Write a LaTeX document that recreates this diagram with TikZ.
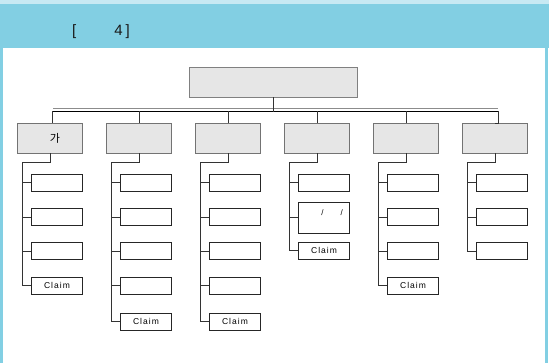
\documentclass[tikz,border=0pt]{standalone}
\usepackage{fontspec}
\setmainfont{Liberation Sans}
\newfontfamily\krfont{Noto Sans CJK KR}
\usetikzlibrary{positioning, calc}
\definecolor{band}{HTML}{82CFE3}
\definecolor{boxfill}{HTML}{E6E6E6}
\tikzset{
x=1pt, y=-1pt, % one unit is one pixel of the page
line width=1.2pt,
root/.style={draw=black!50, fill=boxfill, minimum width=168pt, minimum height=30pt, inner sep=0pt}, % the box on top
group/.style={draw=black!55, fill=boxfill, minimum width=65pt, minimum height=30pt, inner sep=0pt, font=\krfont\fontsize{11}{12}\selectfont}, % the six boxes under the bus
leaf/.style={draw=black!85, fill=white, minimum width=51pt, minimum height=17pt, inner sep=0pt, font=\fontsize{8.5}{9}\selectfont\addfontfeature{LetterSpace=12}}, % the small boxes
link/.style={draw=black!80}, % connectors
}

\begin{document}
\begin{tikzpicture}
        \useasboundingbox (0,0) rectangle (549,363);
        % frame and title band
        \fill[band!45] (0,0) rectangle (549,4);
        \fill[band] (0,4) rectangle (549,48);
        \fill[band] (0,48) rectangle (3,363);
        \fill[band] (545,48) rectangle (548,363);
        \node[anchor=west, inner sep=0pt, font=\fontsize{15}{17}\selectfont, text=black!90] (title) at (72,32) {[\hspace{38pt}4\hspace{3pt}]};

        \node[root] (top) at (273,82) {};

        % the bus
        \coordinate (busL) at (52,111);
        \coordinate (busR) at (498,111);
        \draw[black!45] ($(busL)+(1,-3)$) -- ($(busR)+(0,-3)$);
        \draw[black] (busL) -- (busR);
        \draw[link] (top.south) -- ($(top.south |- busL)+(0,1)$);

        \node[group] (g1) at (50,138) {\hspace*{10pt}가};
        \node[group] (g2) at (139,138) {};
        \node[group] (g3) at (228,138) {};
        \node[group] (g4) at (317,138) {};
        \node[group] (g5) at (406,138) {};
        \node[group] (g6) at (495,138) {};

        \draw[link] (g1.north -| busL) -- (busL);
        \draw[link] (g2.north) -- (g2.north |- busL);
        \draw[link] (g3.north) -- (g3.north |- busL);
        \draw[link] (g4.north) -- (g4.north |- busL);
        \draw[link] (g5.north) -- (g5.north |- busL);
        \draw[link] (g6.north) -- (g6.north -| busR) -- (busR);

        % first column
        \node[leaf] (l11) at (57,182.5) {};
        \node[leaf] (l12) at (57,217) {};
        \node[leaf] (l13) at (57,251) {};
        \node[leaf] (l14) at (57,285.5) {Claim};
        % second column
        \node[leaf] (l21) at (146,182.5) {};
        \node[leaf] (l22) at (146,217) {};
        \node[leaf] (l23) at (146,251) {};
        \node[leaf] (l24) at (146,285.5) {};
        \node[leaf] (l25) at (146,321.5) {Claim};
        % third column
        \node[leaf] (l31) at (235,182.5) {};
        \node[leaf] (l32) at (235,217) {};
        \node[leaf] (l33) at (235,251) {};
        \node[leaf] (l34) at (235,285.5) {};
        \node[leaf] (l35) at (235,321.5) {Claim};
        % fourth column
        \node[leaf] (l41) at (324,182.5) {};
        \node[leaf, minimum height=31pt, label={[font=\fontsize{8}{9}\selectfont, anchor=north, yshift=-4pt, xshift=8pt]north:/\hspace{17pt}/}] (l42) at (324,217.5) {};
        \node[leaf] (l43) at (324,250.5) {Claim};
        % fifth column
        \node[leaf] (l51) at (413,182.5) {};
        \node[leaf] (l52) at (413,217) {};
        \node[leaf] (l53) at (413,251) {};
        \node[leaf] (l54) at (413,285.5) {Claim};
        % sixth column
        \node[leaf] (l61) at (502,182.5) {};
        \node[leaf] (l62) at (502,217) {};
        \node[leaf] (l63) at (502,251) {};

        % spines
        \coordinate (s1) at ($(g1.south west)+(5,9.5)$);
        \coordinate (s2) at ($(g2.south west)+(5,9.5)$);
        \coordinate (s3) at ($(g3.south west)+(5,9.5)$);
        \coordinate (s4) at ($(g4.south west)+(5,9.5)$);
        \coordinate (s5) at ($(g5.south west)+(5,9.5)$);
        \coordinate (s6) at ($(g6.south west)+(5,9.5)$);

        \draw[link] (g1.south) |- (s1) |- (l14.west);
        \draw[link] (s1 |- l11.west) -- (l11.west) (s1 |- l12.west) -- (l12.west) (s1 |- l13.west) -- (l13.west);
        \draw[link] (g2.south) |- (s2) |- (l25.west);
        \draw[link] (s2 |- l21.west) -- (l21.west) (s2 |- l22.west) -- (l22.west) (s2 |- l23.west) -- (l23.west) (s2 |- l24.west) -- (l24.west);
        \draw[link] (g3.south) |- (s3) |- (l35.west);
        \draw[link] (s3 |- l31.west) -- (l31.west) (s3 |- l32.west) -- (l32.west) (s3 |- l33.west) -- (l33.west) (s3 |- l34.west) -- (l34.west);
        \draw[link] (g4.south) |- (s4) |- (l43.west);
        \draw[link] (s4 |- l41.west) -- (l41.west) (s4 |- l42.west) -- (l42.west);
        \draw[link] (g5.south) |- (s5) |- (l54.west);
        \draw[link] (s5 |- l51.west) -- (l51.west) (s5 |- l52.west) -- (l52.west) (s5 |- l53.west) -- (l53.west);
        \draw[link] (g6.south) |- (s6) |- (l63.west);
        \draw[link] (s6 |- l61.west) -- (l61.west) (s6 |- l62.west) -- (l62.west);
\end{tikzpicture}
\end{document}
